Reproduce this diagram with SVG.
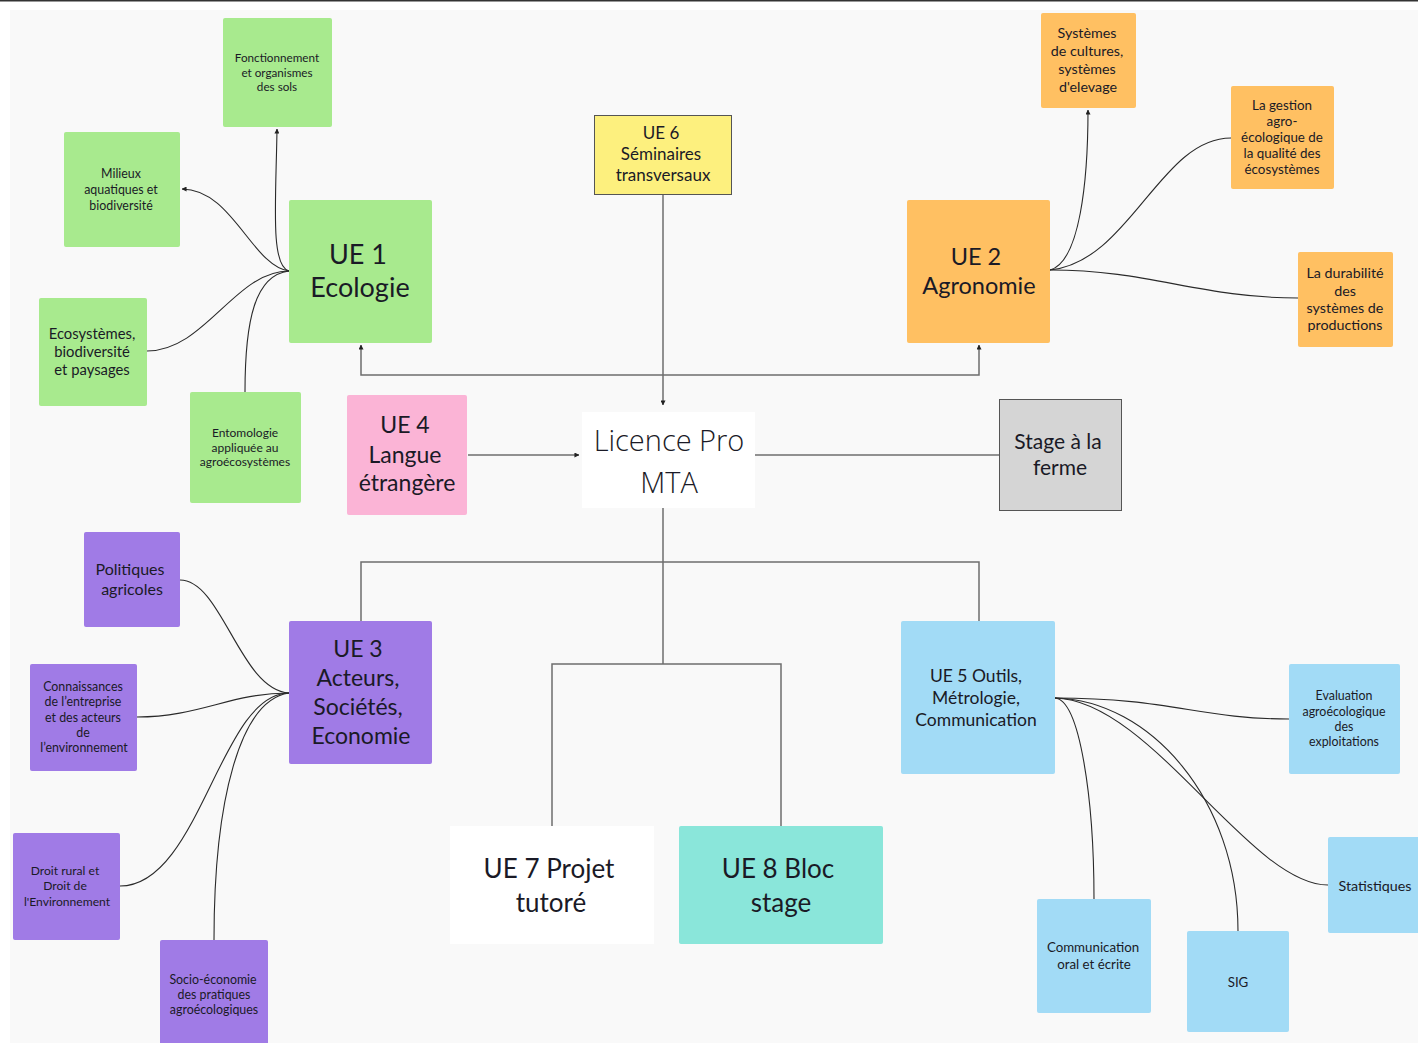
<svg xmlns="http://www.w3.org/2000/svg" width="1418" height="1043" viewBox="0 0 1418 1043">
<defs>
<marker id="ah" viewBox="0 0 6 6" refX="5.5" refY="3" markerWidth="5" markerHeight="5" orient="auto" markerUnits="userSpaceOnUse">
<path d="M0,0 L6,3 L0,6 z" fill="#222"/>
</marker>
<style>
text{font-family:Lato,"Noto Sans","Liberation Sans",sans-serif;fill:#1a1a26;text-anchor:middle}
.g{fill:#a8ea8e}.o{fill:#ffc062}.p{fill:#a07be6}.b{fill:#a2dbf6}
.c{fill:none;stroke:#2a2a2a;stroke-width:1.1}
.k{fill:none;stroke:#6e6e6e;stroke-width:1.5}
.s12{font-size:12.4px}.s13{font-size:13.3px}.s14{font-size:14.3px}
</style>
</defs>
<rect x="0" y="0" width="1418" height="1043" fill="#ffffff"/>
<rect x="10" y="10" width="1408" height="1033" fill="#f9f9f9"/>
<rect x="0" y="0" width="1418" height="1.5" fill="#333"/>

<g id="connectors">
<path class="k" d="M663,194 V405" marker-end="url(#ah)"/>
<path class="k" d="M663,375 H361 V345" marker-end="url(#ah)"/>
<path class="k" d="M663,375 H979 V345" marker-end="url(#ah)"/>
<path class="k" d="M468,455 H579" marker-end="url(#ah)"/>
<path class="k" d="M755,455 H999"/>
<path class="k" d="M663,508 V664"/>
<path class="k" d="M361,621 V562 H979 V621"/>
<path class="k" d="M552,826 V664 H781 V826"/>
<path class="c" d="M289,271 C270,266 276,200 277,129" marker-end="url(#ah)"/>
<path class="c" d="M289,271 C252,266 232,189 182,189" marker-end="url(#ah)"/>
<path class="c" d="M147,351 C205,351 235,271 289,271"/>
<path class="c" d="M245,392 C245,320 255,275 289,271"/>
<path class="c" d="M1050,270 C1080,262 1088,180 1088,110" marker-end="url(#ah)"/>
<path class="c" d="M1050,270 C1130,262 1160,138 1231,138"/>
<path class="c" d="M1050,270 C1150,270 1200,298 1298,298"/>
<path class="c" d="M180,580 C222,580 240,690 289,693"/>
<path class="c" d="M137,717 C200,717 230,693 289,693"/>
<path class="c" d="M120,886 C200,886 220,693 289,693"/>
<path class="c" d="M214,940 C214,800 240,700 289,693"/>
<path class="c" d="M1055,698 C1170,698 1200,719 1289,719"/>
<path class="c" d="M1055,698 C1150,700 1250,885 1328,885"/>
<path class="c" d="M1055,698 C1150,700 1238,800 1238,931"/>
<path class="c" d="M1055,698 C1080,700 1094,800 1094,899"/>
</g>

<g id="fonctionnement"><rect class="g" x="223" y="18" width="109" height="109" rx="2"/>
<text x="277" y="62" style="font-size:11.7px">Fonctionnement</text><text x="277" y="77" style="font-size:11.7px">et organismes</text><text x="277" y="91" style="font-size:11.7px">des sols</text></g>
<g id="milieux"><rect class="g" x="64" y="132" width="116" height="115" rx="2"/>
<text class="s12" x="121" y="178">Milieux</text><text class="s12" x="121" y="194">aquatiques et</text><text class="s12" x="121" y="210">biodiversité</text></g>
<g id="ue1"><rect class="g" x="289" y="200" width="143" height="143" rx="2"/>
<text x="358" y="264" style="font-size:27px">UE 1</text><text x="360" y="297" style="font-size:27px">Ecologie</text></g>
<g id="ecosystemes"><rect class="g" x="39" y="298" width="108" height="108" rx="2"/>
<text x="92" y="339" style="font-size:14.8px">Ecosystèmes,</text><text x="92" y="357" style="font-size:14.8px">biodiversité</text><text x="92" y="375" style="font-size:14.8px">et paysages</text></g>
<g id="entomologie"><rect class="g" x="190" y="392" width="111" height="111" rx="2"/>
<text x="245" y="437" style="font-size:12px">Entomologie</text><text x="245" y="452" style="font-size:12px">appliquée au</text><text x="245" y="466" style="font-size:12px">agroécosystèmes</text></g>

<g id="systemes"><rect class="o" x="1041" y="13" width="95" height="95" rx="2"/>
<text class="s14" x="1087" y="38">Systèmes</text><text class="s14" x="1087" y="56">de cultures,</text><text class="s14" x="1087" y="74">systèmes</text><text class="s14" x="1088" y="92">d'elevage</text></g>
<g id="gestion"><rect class="o" x="1231" y="86" width="103" height="103" rx="2"/>
<text x="1282" y="110" style="font-size:13.4px">La gestion</text><text x="1282" y="126" style="font-size:13.4px">agro-</text><text x="1282" y="142" style="font-size:13.4px">écologique de</text><text x="1282" y="158" style="font-size:13.4px">la qualité des</text><text x="1282" y="174" style="font-size:13.4px">écosystèmes</text></g>
<g id="ue2"><rect class="o" x="907" y="200" width="143" height="143" rx="2"/>
<text x="976" y="265" style="font-size:23.5px">UE 2</text><text x="979" y="294" style="font-size:23.5px">Agronomie</text></g>
<g id="durabilite"><rect class="o" x="1298" y="252" width="95" height="95" rx="2"/>
<text class="s14" x="1345" y="278">La durabilité</text><text class="s14" x="1345" y="296">des</text><text class="s14" x="1345" y="313">systèmes de</text><text class="s14" x="1345" y="330">productions</text></g>

<g id="ue6"><rect x="594.5" y="115.5" width="137" height="79" fill="#fdf07e" stroke="#555" stroke-width="1"/>
<text x="661" y="139" style="font-size:17px">UE 6</text><text x="661" y="160" style="font-size:17px">Séminaires</text><text x="663" y="181" style="font-size:17px">transversaux</text></g>

<g id="ue4"><rect x="347" y="395" width="120" height="120" fill="#fbb4d6" rx="2"/>
<text x="405" y="433" style="font-size:23px">UE 4</text><text x="405" y="463" style="font-size:23px">Langue</text><text x="407" y="491" style="font-size:23px">étrangère</text></g>

<g id="licence"><rect x="582" y="412" width="173" height="96" fill="#ffffff"/>
<text x="669" y="451" style="font-family:'Open Sans','Noto Sans',sans-serif;font-weight:300;font-size:29px">Licence Pro</text>
<text x="669" y="493" style="font-family:'Open Sans','Noto Sans',sans-serif;font-weight:300;font-size:29px">MTA</text></g>

<g id="stage-ferme"><rect x="999.5" y="399.5" width="122" height="111" fill="#d5d5d5" stroke="#555" stroke-width="1"/>
<text x="1058" y="449" style="font-size:21px">Stage à la</text><text x="1060" y="475" style="font-size:21px">ferme</text></g>

<g id="politiques"><rect class="p" x="84" y="532" width="96" height="95" rx="2"/>
<text x="130" y="575" style="font-size:16px">Politiques</text><text x="132" y="595" style="font-size:16px">agricoles</text></g>
<g id="connaissances"><rect class="p" x="30" y="664" width="107" height="107" rx="2"/>
<text class="s12" x="83" y="691">Connaissances</text><text class="s12" x="83" y="706">de l’entreprise</text><text class="s12" x="83" y="722">et des acteurs</text><text class="s12" x="83" y="737">de</text><text class="s12" x="84" y="752">l’environnement</text></g>
<g id="ue3"><rect class="p" x="289" y="621" width="143" height="143" rx="2"/>
<text x="358" y="657" style="font-size:23px">UE 3</text><text x="358" y="686" style="font-size:23px">Acteurs,</text><text x="358" y="715" style="font-size:23px">Sociétés,</text><text x="361" y="744" style="font-size:23px">Economie</text></g>
<g id="droit"><rect class="p" x="13" y="833" width="107" height="107" rx="2"/>
<text x="65" y="875" style="font-size:12.1px">Droit rural et</text><text x="65" y="890" style="font-size:12.1px">Droit de</text><text x="67" y="906" style="font-size:12.1px">l'Environnement</text></g>
<g id="socio"><rect class="p" x="160" y="940" width="108" height="110" rx="2"/>
<text class="s12" x="213" y="984">Socio-économie</text><text class="s12" x="214" y="999">des pratiques</text><text class="s12" x="214" y="1014">agroécologiques</text></g>

<g id="ue5"><rect class="b" x="901" y="621" width="154" height="153" rx="2"/>
<text x="976" y="682" style="font-size:17.5px">UE 5 Outils,</text><text x="976" y="704" style="font-size:17.5px">Métrologie,</text><text x="976" y="726" style="font-size:17.5px">Communication</text></g>
<g id="evaluation"><rect class="b" x="1289" y="664" width="111" height="110" rx="2"/>
<text class="s12" x="1344" y="700">Evaluation</text><text class="s12" x="1344" y="716">agroécologique</text><text class="s12" x="1344" y="731">des</text><text class="s12" x="1344" y="746">exploitations</text></g>
<g id="statistiques"><rect class="b" x="1328" y="837" width="100" height="96" rx="2"/>
<text class="s14" x="1375" y="891">Statistiques</text></g>
<g id="communication"><rect class="b" x="1037" y="899" width="114" height="114" rx="2"/>
<text class="s13" x="1093" y="952">Communication</text><text class="s13" x="1094" y="969">oral et écrite</text></g>
<g id="sig"><rect class="b" x="1187" y="931" width="102" height="101" rx="2"/>
<text class="s13" x="1238" y="987">SIG</text></g>

<g id="ue7"><rect x="450" y="826" width="204" height="118" fill="#ffffff"/>
<text x="549" y="878" style="font-size:26px">UE 7 Projet</text><text x="551" y="912" style="font-size:26px">tutoré</text></g>
<g id="ue8"><rect x="679" y="826" width="204" height="118" fill="#8ae6da" rx="2"/>
<text x="778" y="878" style="font-size:26px">UE 8 Bloc</text><text x="781" y="912" style="font-size:26px">stage</text></g>
</svg>
